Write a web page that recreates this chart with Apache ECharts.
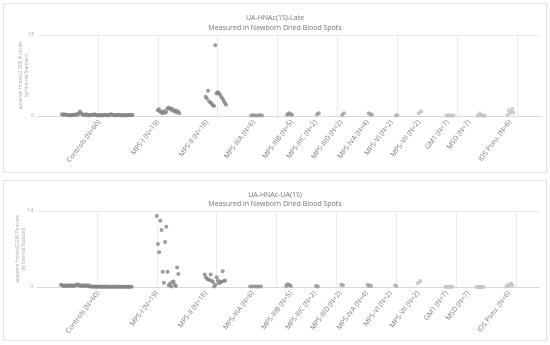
<!DOCTYPE html>
<html>
<head>
<meta charset="utf-8">
<script src="https://cdn.jsdelivr.net/npm/echarts@6/dist/echarts.min.js"></script>
<style>html,body{margin:0;padding:0;background:#fff}#c{width:550px;height:345px}</style>
</head>
<body>
<div id="c"></div>
<script>
// ---- data ----
const categories = ['Controls (N=60)', 'MPS-I (N=19)', 'MPS-II (N=18)', 'MPS-IIIA (N=6)', 'MPS-IIIB (N=5)',
  'MPS-IIIC (N=2)', 'MPS-IIID (N=2)', 'MPS-IVA (N=4)', 'MPS-VI (N=2)', 'MPS-VII (N=2)',
  'GM1 (N=7)', 'MSD (N=7)', 'IDS Pseu. (N=6)'];
// axis positions of category labels
const labelPos = [5.1, 10.0, 14.1, 18.0, 21.2, 23.2, 25.3, 27.5, 29.5, 31.8, 34.2, 36.0, 39.4];
// first x position of each group's strip and spacing between samples
const groupStart = [2.0, 10.0, 14.0, 17.8, 20.8, 23.3, 25.4, 27.6, 29.9, 31.8, 34.1, 36.7, 39.2];
const groupStep = [0.1, 0.1, 0.1, 0.18, 0.1, 0.15, 0.15, 0.1, 0.1, 0.2, 0.1, 0.1, 0.1];

const titleLate = 'UA-HNAc(1S)-Late';
const titleUA = 'UA-HNAc-UA(1S)';
const subTitle = 'Measured in Newborn Dried Blood Spots';
const yName = 'apparent fmoles/2 DBS Punches\nby Internal Standard';
const yMaxLate = 18;
const yMaxUA = 14;

// UA-HNAc(1S)-Late values per group
const lateControls = [0.4,0.3,0.4,0.3,0.2,0.3,0.2,0.1,0.2,0.3,
  0.2,0.3,0.4,0.3,0.5,1.0,0.6,0.4,0.3,0.2,
  0.4,0.3,0.2,0.1,0.2,0.3,0.2,0.4,0.3,0.2,
  0.1,0.2,0.1,0.2,0.1,0.2,0.3,0.2,0.1,0.2,
  0.3,0.4,0.3,0.2,0.2,0.1,0.2,0.3,0.2,0.1,
  0.2,0.1,0.2,0.2,0.1,0.2,0.3,0.2,0.2,0.2];
const lateMPSI = [1.3,1.5,1.0,0.8,0.6,1.1,0.7,0.9,1.6,1.9,1.7,1.4,1.6,1.2,1.0,1.3,0.8,1.0,0.6];
const lateMPSII = [4.3,3.9,5.6,3.2,3.0,2.7,2.4,2.2,15.7,5.0,5.3,5.1,4.7,4.2,3.9,3.4,2.9,2.5];
const lateMPSIIIA = [0.1,0.2,0.1,0.1,0.2,0.1];
const lateMPSIIIB = [0.3,0.5,0.6,0.4,0.3];
const lateMPSIIIC = [0.4,0.6];
const lateMPSIIID = [0.2,0.6];
const lateMPSIVA = [0.6,0.5,0.3,0.3];
const lateMPSVI = [0.1,0.2];
const lateMPSVII = [0.6,1.0];
const lateGM1 = [0.1,0.1,0.1,0.1,0.1,0.1,0.1];
const lateMSD = [0.05,0.1,0.6,0.2,0.05,0.1,0.05];
const lateIDS = [0.2,1.3,0.6,0.9,1.6,0.8];

// UA-HNAc-UA(1S) values per group
const uaControls = [0.4,0.3,0.2,0.2,0.3,0.2,0.3,0.2,0.3,0.2,
  0.3,0.2,0.3,0.3,0.5,0.3,0.2,0.3,0.2,0.3,
  0.2,0.3,0.2,0.3,0.1,0.1,0.1,0.05,0.1,0.05,
  0.05,0.05,0.1,0.05,0.05,0.05,0.05,0.1,0.05,0.05,
  0.05,0.05,0.05,0.05,0.1,0.05,0.05,0.05,0.05,0.05,
  0.05,0.05,0.05,0.05,0.05,0.05,0.05,0.05,0.05,0.05];
const uaMPSI = [13.1,7.9,6.4,12.2,10.5,2.8,0.8,8.3,11.1,2.8,0.3,0.6,0.1,0.9,1.0,0.4,0.2,3.6,2.4];
const uaMPSII = [2.3,1.8,1.5,1.4,1.3,2.3,1.1,0.9,0.1,0.4,1.8,1.2,0.7,1.0,0.9,2.9,1.1,1.2];
const uaMPSIIIA = [0.1,0.1,0.1,0.1,0.1,0.1];
const uaMPSIIIB = [0.2,0.5,0.4,0.3,0.2];
const uaMPSIIIC = [0.2,0.1];
const uaMPSIIID = [0.4,0.3];
const uaMPSIVA = [0.4,0.2,0.3,0.2];
const uaMPSVI = [0.3,0.2];
const uaMPSVII = [0.7,1.1];
const uaGM1 = [0.05,0.05,0.05,0.05,0.05,0.05,0.05];
const uaMSD = [0.02,0.02,0.02,0.02,0.02,0.02,0.02];
const uaIDS = [0.1,0.3,0.2,0.5,0.6,0.3];

const lateGroups = [lateControls, lateMPSI, lateMPSII, lateMPSIIIA, lateMPSIIIB, lateMPSIIIC, lateMPSIIID,
  lateMPSIVA, lateMPSVI, lateMPSVII, lateGM1, lateMSD, lateIDS];
const uaGroups = [uaControls, uaMPSI, uaMPSII, uaMPSIIIA, uaMPSIIIB, uaMPSIIIC, uaMPSIIID,
  uaMPSIVA, uaMPSVI, uaMPSVII, uaGM1, uaMSD, uaIDS];

// ---- styles ----
const groupColors = ['#858585','#858585','#858585','#8f8f8f','#8f8f8f','#969696','#a0a0a0',
  '#a4a4a4','#b0b0b0','#bcbcbc','#c4c4c4','#c4c4c4','#c4c4c4'];
const FONT = 'Open Sans';

function buildSeries(groups, idx) {
  return groups.map((vals, g) => ({
    type: 'scatter',
    xAxisIndex: idx, yAxisIndex: idx,
    symbolSize: 4,
    itemStyle: { color: groupColors[g] },
    data: vals.map((v, i) => [groupStart[g] + groupStep[g] * i, v]),
    silent: true,
    animation: false
  }));
}

function xAxisFor(idx) {
  return {
    gridIndex: idx, type: 'value', min: 0, max: 42, interval: 5,
    axisLine: { show: true, onZero: false, lineStyle: { color: '#d9d9d9', width: 1 } },
    axisTick: { show: false },
    splitLine: { show: true, showMinLine: false, showMaxLine: false, lineStyle: { color: '#ececec', width: 1 } },
    axisLabel: {
      customValues: labelPos,
      formatter: v => { const k = labelPos.indexOf(v); return k >= 0 ? categories[k] : ''; },
      rotate: 53, fontSize: 7, color: '#7f7f7f', margin: 5, fontFamily: FONT, hideOverlap: false
    }
  };
}
function yAxisFor(idx, max, gap) {
  return {
    gridIndex: idx, type: 'value', min: 0, max: max, interval: max,
    axisLine: { show: false }, axisTick: { show: false },
    splitLine: { show: true, lineStyle: { color: '#ececec', width: 1 } },
    axisLabel: { fontSize: 5, color: '#a6a6a6', margin: 4, fontFamily: FONT },
    name: yName, nameLocation: 'middle', nameGap: gap, nameMoveOverlap: false,
    nameTextStyle: { fontSize: 4.5, lineHeight: 5.5, color: '#a6a6a6', fontFamily: FONT }
  };
}

const chart = echarts.init(document.getElementById('c'), null, { renderer: 'canvas' });
chart.setOption({
  animation: false,
  backgroundColor: '#ffffff',
  graphic: [
    { type: 'rect', z: -10, silent: true, shape: { x: 3.5, y: 3.5, width: 543, height: 169 },
      style: { fill: 'none', stroke: '#e3e3e3', lineWidth: 1 } },
    { type: 'rect', z: -10, silent: true, shape: { x: 3.5, y: 180.5, width: 543, height: 160 },
      style: { fill: 'none', stroke: '#e3e3e3', lineWidth: 1 } }
  ],
  title: [
    { text: titleLate + '\n' + subTitle, left: 'center', top: 8,
      textStyle: { fontSize: 7, lineHeight: 10, fontWeight: 'normal', color: '#757575', fontFamily: FONT } },
    { text: titleUA + '\n' + subTitle, left: 'center', top: 185,
      textStyle: { fontSize: 7, lineHeight: 9, fontWeight: 'normal', color: '#757575', fontFamily: FONT } }
  ],
  grid: [
    { left: 38, right: 9, top: 35, height: 81 },
    { left: 37, right: 10, top: 211, height: 76 }
  ],
  xAxis: [xAxisFor(0), xAxisFor(1)],
  yAxis: [yAxisFor(0, yMaxLate, 9), yAxisFor(1, yMaxUA, 11)],
  series: buildSeries(lateGroups, 0).concat(buildSeries(uaGroups, 1))
});
</script>
</body>
</html>
